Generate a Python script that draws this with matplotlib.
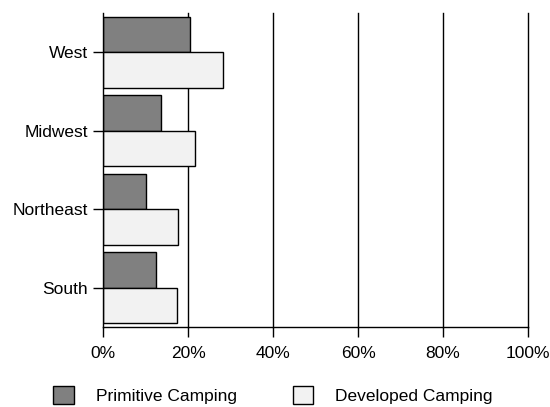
import numpy as np
import matplotlib
matplotlib.use("Agg")
import matplotlib.pyplot as plt
from matplotlib.patches import Patch

regions = ["West", "Midwest", "Northeast", "South"]
primitive = [20.5, 13.6, 10.1, 12.5]
developed = [28.3, 21.6, 17.6, 17.3]
xticks = [0, 20, 40, 60, 80, 100]

plt.rcParams['font.family'] = ['Liberation Sans', 'DejaVu Sans']
plt.rcParams['font.size'] = 12.5

fig = plt.figure(figsize=(5.5, 4.07), dpi=100)
ax = fig.add_axes([0.1873, 0.1966, 0.7727, 0.7714])

y = np.arange(len(regions))
h = 0.45
ax.barh(y - h / 2, primitive, height=h, color='#808080', edgecolor='black',
        linewidth=1, zorder=3)
ax.barh(y + h / 2, developed, height=h, color='#f2f2f2', edgecolor='black',
        linewidth=1, zorder=3)

ax.set_xlim(0, 100)
ax.set_ylim(3.5, -0.5)
ax.set_xticks(xticks)
ax.set_xticklabels([f"{v}%" for v in xticks])
ax.set_yticks(y)
ax.set_yticklabels(regions)

for v in xticks[1:]:
    ax.axvline(v, color='black', linewidth=1, zorder=1, clip_on=False)

ax.spines['top'].set_visible(False)
ax.spines['right'].set_visible(False)
for s in ['left', 'bottom']:
    ax.spines[s].set_linewidth(1)
    ax.spines[s].set_zorder(4)
ax.tick_params(axis='x', length=7, width=1, pad=7)
ax.tick_params(axis='y', length=7, width=1, pad=4)

handles = [Patch(facecolor='#808080', edgecolor='black', label='Primitive Camping'),
           Patch(facecolor='#f2f2f2', edgecolor='black', label='Developed Camping')]
fig.legend(handles=handles, loc='center', bbox_to_anchor=(273 / 550, 1 - 395 / 407),
           ncol=2, frameon=False, handlelength=1.2, handleheight=1.2,
           handletextpad=1.25, columnspacing=3.2, borderpad=0)

fig.savefig("out.png", dpi=100)
